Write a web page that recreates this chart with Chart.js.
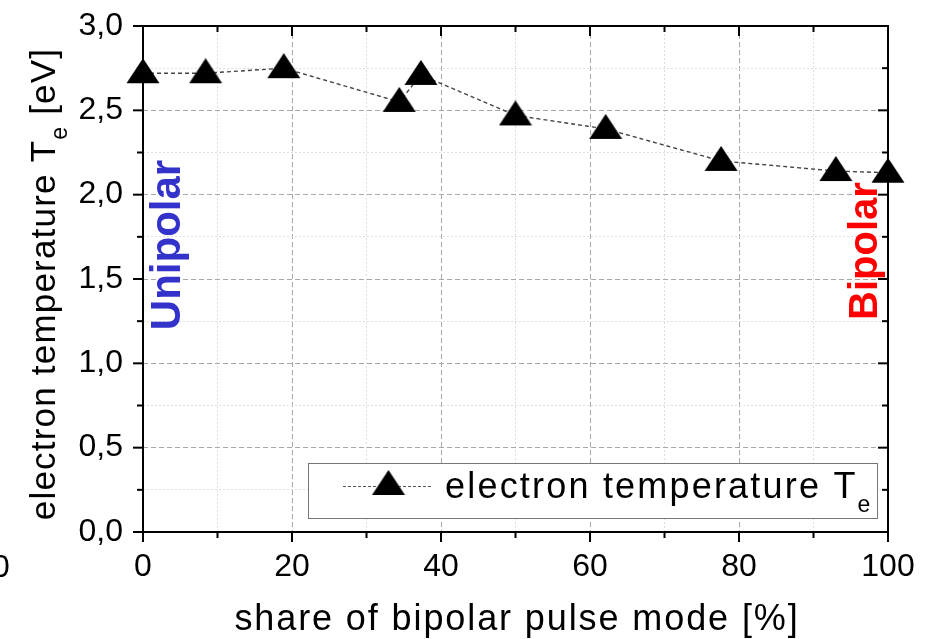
<!doctype html>
<html>
<head>
<meta charset="utf-8">
<title>Electron temperature vs. share of bipolar pulse mode</title>
<script src="https://cdn.jsdelivr.net/npm/chart.js"></script>
<style>
  body { margin: 0; background: #fff; }
  #wrap { width: 934px; height: 639px; }
</style>
</head>
<body>
<div id="wrap"><canvas id="te_chart" width="934" height="639"></canvas></div>
<script>
// values
const bipolarShare = [0, 8.4, 18.9, 34.4, 37.3, 50, 62.1, 77.6, 93, 100];
const electronTemp = [2.72, 2.72, 2.75, 2.55, 2.71, 2.47, 2.39, 2.2, 2.14, 2.13];

const xMajor = [0, 20, 40, 60, 80, 100];
const xTickLabels = ['0', '20', '40', '60', '80', '100'];
const yMajor = [0, 0.5, 1, 1.5, 2, 2.5, 3];
const yTickLabels = ['0,0', '0,5', '1,0', '1,5', '2,0', '2,5', '3,0'];

const xTitle = 'share of bipolar pulse mode [%]';
const yTitle = ['electron temperature T', 'e', ' [eV]'];
const legendText = ['electron temperature T', 'e'];

const FONT = "'Liberation Sans', Arial, Helvetica, sans-serif";

// Origin-like triangle, a bit wider than equilateral; data point sits ~60% down
function makeTriangle() {
  const c = document.createElement('canvas');
  c.width = 34;
  c.height = 30;
  const g = c.getContext('2d');
  g.fillStyle = '#000';
  g.beginPath();
  g.moveTo(17, 0);
  g.lineTo(33.5, 25);
  g.lineTo(0.5, 25);
  g.closePath();
  g.fill();
  return c;
}
const triangle = makeTriangle();

function isMajorX(v) { return xMajor.indexOf(v) >= 0; }
function isMajorY(v) { return yMajor.some(m => Math.abs(m - v) < 1e-9); }

function gridColor(v, lo, hi, major) {
  if (v === undefined || Math.abs(v - lo) < 1e-9 || Math.abs(v - hi) < 1e-9) return 'rgba(0,0,0,0)';
  return major ? '#a8a8a8' : '#dedede';
}

function line(ctx, x1, y1, x2, y2) {
  ctx.beginPath();
  ctx.moveTo(x1, y1);
  ctx.lineTo(x2, y2);
  ctx.stroke();
}

function rotatedLabel(ctx, text, bx, cy, font, color) {
  ctx.save();
  ctx.translate(bx, cy);
  ctx.rotate(-Math.PI / 2);
  ctx.font = font;
  ctx.fillStyle = color;
  ctx.textAlign = 'center';
  ctx.textBaseline = 'alphabetic';
  ctx.fillText(text, 0, 0);
  ctx.restore();
}

const frameAndText = {
  id: 'frameAndText',
  beforeDatasetsDraw(chart) {
    const ctx = chart.ctx;
    const a = chart.chartArea;
    const x = chart.scales.x;
    const y = chart.scales.y;
    ctx.save();

    // Unipolar / Bipolar labels
    rotatedLabel(ctx, 'Unipolar', 180, 245, 'bold 42px ' + FONT, '#3333cc');
    rotatedLabel(ctx, 'Bipolar', 877, 251, 'bold 40px ' + FONT, '#ff0000');

    // frame
    ctx.strokeStyle = '#000';
    ctx.lineWidth = 2;
    ctx.strokeRect(a.left, a.top, a.right - a.left, a.bottom - a.top);

    // ticks: outward on left/bottom, inward on top/right
    x.ticks.forEach(t => {
      const px = x.getPixelForValue(t.value);
      const len = isMajorX(t.value) ? 10 : 6;
      line(ctx, px, a.bottom, px, a.bottom + len);
      line(ctx, px, a.top, px, a.top + len);
    });
    y.ticks.forEach(t => {
      const py = y.getPixelForValue(t.value);
      const len = isMajorY(t.value) ? 10 : 6;
      line(ctx, a.left - len, py, a.left, py);
      line(ctx, a.right - len, py, a.right, py);
    });
    ctx.restore();
  },
  afterDatasetsDraw(chart) {
    const ctx = chart.ctx;
    ctx.save();
    ctx.fillStyle = '#000';

    // y title with subscript
    ctx.translate(55, 284);
    ctx.rotate(-Math.PI / 2);
    ctx.letterSpacing = '1.2px';
    ctx.font = '35px ' + FONT;
    const w1 = ctx.measureText(yTitle[0]).width;
    const w3 = ctx.measureText(yTitle[2]).width;
    ctx.font = '23px ' + FONT;
    const w2 = ctx.measureText(yTitle[1]).width;
    let sx = -(w1 + w2 + w3) / 2;
    ctx.textAlign = 'left';
    ctx.font = '35px ' + FONT;
    ctx.fillText(yTitle[0], sx, 0);
    ctx.font = '23px ' + FONT;
    ctx.fillText(yTitle[1], sx + w1, 12);
    ctx.font = '35px ' + FONT;
    ctx.fillText(yTitle[2], sx + w1 + w2, 0);
    ctx.setTransform(1, 0, 0, 1, 0, 0);

    // x title
    ctx.letterSpacing = '1.9px';
    ctx.font = '36px ' + FONT;
    ctx.textAlign = 'center';
    ctx.fillText(xTitle, 517, 630);

    // stray cut-off tick label at the far left
    ctx.letterSpacing = '0px';
    ctx.font = '32px ' + FONT;
    ctx.fillText('0', 1, 577);

    // legend box
    ctx.fillStyle = '#fff';
    ctx.fillRect(308, 463, 570, 55);
    ctx.strokeStyle = '#777';
    ctx.lineWidth = 1;
    ctx.strokeRect(308.5, 463.5, 569, 55);
    ctx.strokeStyle = '#555';
    ctx.setLineDash([3, 2]);
    line(ctx, 343, 486.5, 432, 486.5);
    ctx.setLineDash([]);
    ctx.drawImage(triangle, 388.5 - 17, 485 - 15);
    ctx.fillStyle = '#000';
    ctx.textAlign = 'left';
    ctx.letterSpacing = '2.2px';
    ctx.font = '36px ' + FONT;
    ctx.fillText(legendText[0], 445, 498);
    const lw = ctx.measureText(legendText[0]).width;
    ctx.letterSpacing = '0px';
    ctx.font = '23px ' + FONT;
    ctx.fillText(legendText[1], 445 + lw, 512);
    ctx.restore();
  }
};

const chart = new Chart(document.getElementById('te_chart'), {
  type: 'scatter',
  data: {
    datasets: [{
      label: 'electron temperature Te',
      data: bipolarShare.map((v, i) => ({ x: v, y: electronTemp[i] })),
      showLine: true,
      borderColor: '#444',
      borderWidth: 1.4,
      borderDash: [4, 3],
      pointStyle: triangle,
      pointRadius: 16,
      pointBackgroundColor: '#000',
      clip: false
    }]
  },
  options: {
    responsive: false,
    animation: false,
    events: [],
    layout: { padding: { top: 26, right: 46, left: 0, bottom: 0 } },
    plugins: {
      legend: { display: false },
      tooltip: { enabled: false }
    },
    scales: {
      x: {
        type: 'linear',
        min: 0,
        max: 100,
        afterFit(s) { s.height = 107; },
        ticks: {
          stepSize: 10,
          autoSkip: false,
          maxRotation: 0,
          padding: 16,
          color: '#000',
          font: { family: FONT, size: 32 },
          callback: v => {
            const i = xMajor.indexOf(v);
            return i >= 0 ? xTickLabels[i] : '';
          }
        },
        grid: {
          drawTicks: false,
          lineWidth: 1,
          color: c => gridColor(c.tick && c.tick.value, 0, 100, c.tick && isMajorX(c.tick.value))
        },
        border: {
          display: false,
          dash: c => (c.tick && isMajorX(c.tick.value)) ? [5, 3] : [2, 2]
        }
      },
      y: {
        min: 0,
        max: 3,
        afterFit(s) { s.width = 143; },
        ticks: {
          stepSize: 0.25,
          autoSkip: false,
          padding: 0,
          color: '#000',
          font: { family: FONT, size: 32 },
          callback: v => {
            const i = yMajor.findIndex(m => Math.abs(m - v) < 1e-9);
            return i >= 0 ? yTickLabels[i] : '';
          }
        },
        grid: {
          drawTicks: true,
          tickLength: 20,
          tickColor: 'rgba(0,0,0,0)',
          lineWidth: 1,
          color: c => gridColor(c.tick && c.tick.value, 0, 3, c.tick && isMajorY(c.tick.value))
        },
        border: {
          display: false,
          dash: c => (c.tick && isMajorY(c.tick.value)) ? [5, 3] : [2, 2]
        }
      }
    }
  },
  plugins: [frameAndText]
});
</script>
</body>
</html>
